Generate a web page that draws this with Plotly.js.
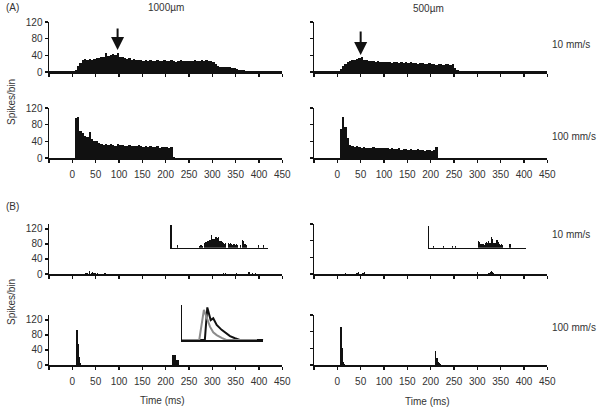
<!DOCTYPE html>
<html>
<head>
<meta charset="utf-8">
<script src="https://cdn.plot.ly/plotly-3.0.1.min.js"></script>
<style>html,body{margin:0;padding:0;background:#fff;}#chart{width:602px;height:411px;}</style>
</head>
<body>
<div id="chart"></div>
<script>
// ---------- DATA ----------
const binStart = -50, binWidth = 5, nBins = 100;       // 5 ms bins, panel (A)
const tickVals = [-50, 0, 50, 100, 150, 200, 250, 300, 350, 400, 450];
const tickText = ['', '0', '50', '100', '150', '200', '250', '300', '350', '400', '450'];
const yTickVals = [0, 40, 80, 120];

// (A) 1000um, 10 mm/s
const aTop1000 = [2,3,2,2,3,2,2,3,2,3,
  3,6,14,22,30,31,29,32,30,31,
  34,33,37,36,46,38,40,44,42,45,
  36,35,33,32,34,30,31,29,30,28,
  27,28,26,29,27,26,28,27,26,28,
  27,26,28,27,25,27,28,26,27,26,
  27,26,28,27,26,28,27,29,27,26,
  25,20,15,13,13,12,11,11,10,9,
  8,6,5,4,3,3,2,3,2,3,
  2,3,2,2,3,2,3,2,2,3];
// (A) 500um, 10 mm/s
const aTop500 = [2,2,3,2,2,3,2,2,3,2,
  3,8,15,20,24,27,28,29,31,33,
  35,30,29,27,26,27,25,26,24,25,
  24,23,25,22,23,24,22,23,22,24,
  22,25,21,22,20,21,22,20,19,21,
  20,19,18,20,19,18,20,19,18,19,
  10,4,3,2,3,2,2,3,2,2,
  2,3,2,2,3,2,2,2,3,2,
  2,2,3,2,2,2,3,2,2,2,
  3,2,2,2,3,2,2,3,2,2];
// (A) 1000um, 100 mm/s
const aBot1000 = [0,0,0,0,0,0,0,0,0,0,
  0,95,99,66,60,54,50,62,46,42,
  40,35,33,32,34,31,33,32,30,33,
  31,32,30,29,31,28,30,29,31,28,
  27,28,26,29,27,26,28,25,27,26,
  27,25,26,2,0,0,0,0,0,0,
  0,0,0,0,0,0,0,0,0,0,
  0,0,0,0,0,0,0,0,0,0,
  0,0,0,0,0,0,0,0,0,0,
  0,0,0,0,0,0,0,0,0,0];
// (A) 500um, 100 mm/s
const aBot500 = [0,0,0,0,0,0,0,0,0,0,
  0,70,98,74,47,32,28,27,28,26,
  25,27,24,25,23,26,24,23,25,24,
  23,24,22,23,21,22,23,20,22,21,
  20,21,19,20,21,19,20,18,19,20,
  18,19,27,0,0,0,0,0,0,0,
  0,0,0,0,0,0,0,0,0,0,
  0,0,0,0,0,0,0,0,0,0,
  0,0,0,0,0,0,0,0,0,0,
  0,0,0,0,0,0,0,0,0,0];

// (B) sparse 2.5 ms bins: times (bin centres, ms) and counts
const bBinWidth = 2.5;
const bTop1000T = [29, 31.5, 36, 41, 43.5, 46, 48.5, 54, 70, 324, 329, 352, 377, 379.5, 387, 392];
const bTop1000N = [3, 3, 7, 4, 5, 4, 4, 3, 2, 3, 3, 3, 6, 5, 4, 4];
const bTop500T = [17, 42, 44.5, 55, 57.5, 300, 325, 327.5, 330, 332.5, 335];
const bTop500N = [2, 3, 4, 3, 4, 4, 3, 5, 8, 6, 3];
const bBot1000T = [10, 12.5, 15, 17.5, 214, 216.5, 219, 221.5, 224, 226.5];
const bBot1000N = [93, 57, 20, 5, 27, 27, 26, 27, 13, 12];
const bBot500T = [8, 10.5, 13, 15.5, 211, 213.5, 216, 218.5, 221];
const bBot500N = [92, 40, 8, 3, 34, 18, 8, 5, 3];

// (B) insets, magnified (relative units 0-10)
const inset1000T = [226, 272, 274.5, 277, 279.5, 284, 286.5, 289, 291.5, 294, 296.5, 299, 301.5, 304, 306.5, 309, 311.5, 314, 316.5, 319, 321.5, 324, 326.5, 329, 334, 336.5, 339, 341.5, 344, 346.5, 349, 351.5, 354, 360, 365, 367.5, 370, 372.5, 399, 409];
const inset1000N = [1.2, 0.8, 1, 1.2, 0.8, 2, 2.5, 3, 3.2, 3.6, 3.3, 5.5, 4, 3.8, 4.6, 4.6, 4.5, 4.6, 3.2, 3, 2.5, 2, 1.6, 2.2, 2.2, 1.5, 2.2, 1.8, 1.4, 1.8, 1.2, 1.5, 1, 1.2, 3.3, 3.2, 1.8, 1.4, 1.2, 1.2];
const inset500T = [205.5, 227, 247, 253, 302, 304.5, 307, 309.5, 312, 314.5, 317, 319.5, 322, 324.5, 327, 329.5, 332, 334.5, 337, 339.5, 342, 344.5, 347, 349.5, 352, 354.5, 370];
const inset500N = [0.9, 0.9, 0.9, 0.9, 3.1, 2.6, 1.6, 1.8, 1.6, 1.4, 2.3, 2.5, 2.2, 3, 2.4, 5, 3.9, 2.3, 2.2, 2.4, 3.4, 2.8, 1.6, 1.4, 1.6, 1.2, 1.9];
const insetGreyT = [235.7, 272, 282, 288, 295, 302, 309.4, 320, 330, 395.8];
const insetGreyV = [0, 0, 8.6, 6.5, 3.8, 2.2, 1.4, 0.6, 0, 0];
const insetBlackT = [235.7, 284, 289.3, 296.5, 302, 309.4, 320, 330.8, 338, 348.6, 359, 409.3];
const insetBlackV = [0, 0, 9.3, 5.7, 6.2, 4.3, 2.9, 1.9, 1.1, 0.5, 0, 0];

// ---------- LAYOUT HELPERS ----------
const W = 602, H = 411;
const px = v => v / W;
const py = v => 1 - v / H;
const FONT = 'Liberation Sans, Arial, Helvetica, sans-serif';
const TXT = '#333';
const INK = '#111';

const binCenters = [];
for (let i = 0; i < nBins; i++) binCenters.push(binStart + binWidth * (i + 0.5));

function bar(x, y, w, xa, ya) {
  return {type: 'bar', x: x, y: y, width: w, xaxis: xa, yaxis: ya,
    marker: {color: INK, line: {width: 0}}, hoverinfo: 'skip', showlegend: false};
}

function xAxis(dom, anchor, labels) {
  return {domain: dom, anchor: anchor, range: [-50, 450], showgrid: false, zeroline: false,
    showline: true, linecolor: INK, linewidth: 1.5, ticks: 'outside', ticklen: 3, tickwidth: 1.5,
    tickcolor: INK, tickmode: 'array', tickvals: tickVals, ticktext: tickText, ticklabelstandoff: 3,
    showticklabels: labels, tickfont: {family: FONT, size: 10, color: TXT}, fixedrange: true};
}
function yAxis(dom, anchor, range, labels) {
  return {domain: dom, anchor: anchor, range: range, showgrid: false, zeroline: false,
    showline: true, linecolor: INK, linewidth: 1.5, ticks: 'outside', ticklen: 3, tickwidth: 1.5,
    tickcolor: INK, tickmode: 'array', tickvals: yTickVals, showticklabels: labels,
    tickfont: {family: FONT, size: 10, color: TXT}, fixedrange: true};
}
function insetAxis(dom, anchor, range) {
  return {domain: dom, anchor: anchor, range: range, showgrid: false, zeroline: false,
    showline: true, linecolor: INK, linewidth: 1.5, ticks: '', showticklabels: false, fixedrange: true};
}

const xL = [px(49), px(282.3)], xR = [px(314), px(547.3)];
const yA1 = [py(72), py(22)], yA2 = [py(158), py(108)];
const yB1 = [py(274), py(224)], yB2 = [py(365), py(315)];

const data = [
  bar(binCenters, aTop1000, binWidth, 'x', 'y'),
  bar(binCenters, aTop500, binWidth, 'x2', 'y2'),
  bar(binCenters, aBot1000, binWidth, 'x3', 'y3'),
  bar(binCenters, aBot500, binWidth, 'x4', 'y4'),
  bar(bTop1000T, bTop1000N, bBinWidth, 'x5', 'y5'),
  bar(bTop500T, bTop500N, bBinWidth, 'x6', 'y6'),
  bar(bBot1000T, bBot1000N, bBinWidth, 'x7', 'y7'),
  bar(bBot500T, bBot500N, bBinWidth, 'x8', 'y8'),
  bar(inset1000T, inset1000N, bBinWidth, 'x9', 'y9'),
  bar(inset500T, inset500N, bBinWidth, 'x10', 'y10'),
  {type: 'scatter', mode: 'lines', x: insetBlackT, y: insetBlackV, xaxis: 'x11', yaxis: 'y11',
    line: {color: INK, width: 2}, hoverinfo: 'skip', showlegend: false, cliponaxis: false},
  {type: 'scatter', mode: 'lines', x: insetGreyT, y: insetGreyV, xaxis: 'x11', yaxis: 'y11',
    line: {color: '#8c8c8c', width: 2}, hoverinfo: 'skip', showlegend: false, cliponaxis: false}
];

function txt(x, y, s, xanchor, extra) {
  return Object.assign({xref: 'paper', yref: 'paper', x: px(x), y: py(y), text: s, showarrow: false,
    xanchor: xanchor || 'center', yanchor: 'middle', font: {family: FONT, size: 10, color: TXT}}, extra || {});
}
function arrow(xa, ya, x, y, len) {
  return {xref: xa, yref: ya, x: x, y: y, ax: 0, ay: -len, text: '', showarrow: true,
    arrowhead: 2, arrowsize: 1.3, arrowwidth: 2, arrowcolor: INK, standoff: 0};
}

const layout = {
  width: W, height: H, margin: {l: 0, r: 0, t: 0, b: 0}, paper_bgcolor: '#fff', plot_bgcolor: 'rgba(0,0,0,0)',
  showlegend: false, bargap: 0, barmode: 'overlay',
  xaxis: xAxis(xL, 'y', false), yaxis: yAxis(yA1, 'x', [0, 120], true),
  xaxis2: xAxis(xR, 'y2', false), yaxis2: yAxis(yA1, 'x2', [0, 120], false),
  xaxis3: xAxis(xL, 'y3', true), yaxis3: yAxis(yA2, 'x3', [0, 120], true),
  xaxis4: xAxis(xR, 'y4', true), yaxis4: yAxis(yA2, 'x4', [0, 120], false),
  xaxis5: xAxis(xL, 'y5', false), yaxis5: yAxis(yB1, 'x5', [0, 133], true),
  xaxis6: xAxis(xR, 'y6', false), yaxis6: yAxis(yB1, 'x6', [0, 120], false),
  xaxis7: xAxis(xL, 'y7', true), yaxis7: yAxis(yB2, 'x7', [0, 133], true),
  xaxis8: xAxis(xR, 'y8', true), yaxis8: yAxis(yB2, 'x8', [0, 120], false),
  xaxis9: insetAxis([px(171.7), px(268.3)], 'y9', [213, 420]),
  yaxis9: insetAxis([py(247.7), py(225.3)], 'x9', [0, 10]),
  xaxis10: insetAxis([px(429), px(526)], 'y10', [196.5, 404.3]),
  yaxis10: insetAxis([py(247.7), py(226.3)], 'x10', [0, 10]),
  xaxis11: insetAxis([px(182.3), px(263.3)], 'y11', [235.7, 409.3]),
  yaxis11: insetAxis([py(340), py(305)], 'x11', [0, 10]),
  annotations: [
    txt(4, 8, '(A)', 'left'),
    txt(4, 206, '(B)', 'left'),
    txt(166, 8, '1000µm'),
    txt(428, 8.5, '500µm'),
    txt(550, 45, '10 mm/s', 'left'),
    txt(550, 136, '100 mm/s', 'left'),
    txt(550, 234, '10 mm/s', 'left'),
    txt(550, 327, '100 mm/s', 'left'),
    txt(162, 400, 'Time (ms)'),
    txt(427, 401, 'Time (ms)'),
    txt(11, 102, 'Spikes/bin', 'center', {textangle: -90}),
    txt(11, 302, 'Spikes/bin', 'center', {textangle: -90}),
    arrow('x', 'y', 97, 52.8, 23),
    arrow('x2', 'y2', 50, 40.8, 25)
  ]
};

Plotly.newPlot('chart', data, layout, {staticPlot: true, displayModeBar: false});
</script>
</body>
</html>
